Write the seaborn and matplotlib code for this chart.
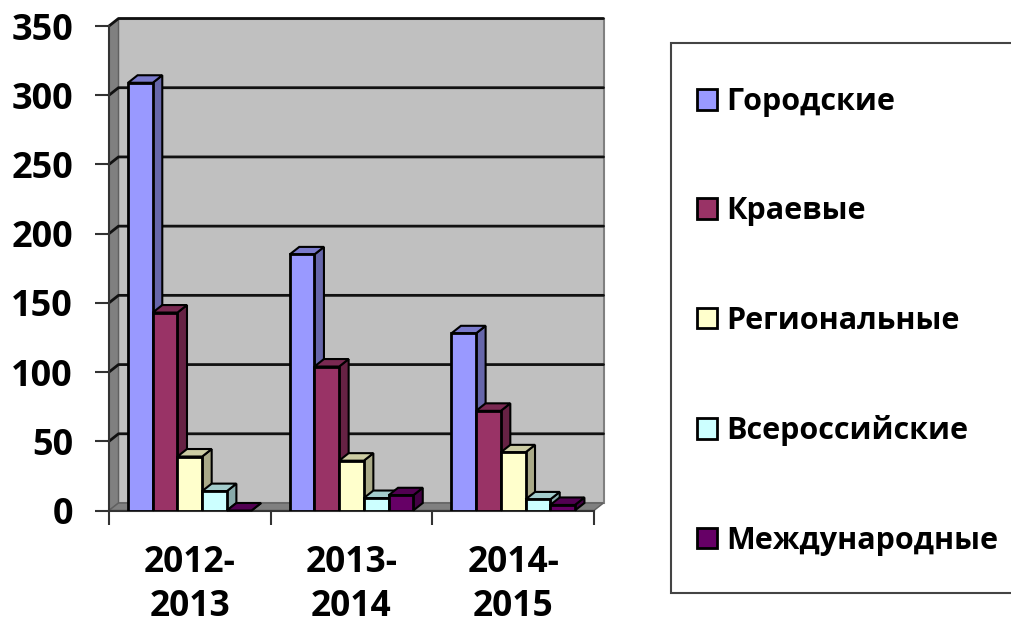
import pandas as pd
import numpy as np
import matplotlib
matplotlib.use("Agg")
import matplotlib.pyplot as plt
from matplotlib.colors import to_rgb
from matplotlib.patches import Polygon, Rectangle
import seaborn as sns

years=["2012-\n2013","2013-\n2014","2014-\n2015"]
gorodskie=[309,185,128]
kraevye=[143,104,72]
regionalnye=[39,36,42]
vserossiyskie=[14,9,8]
mezhdunarodnye=[0,11,4]
series_names=["Городские","Краевые","Региональные","Всероссийские","Международные"]
colors=["#9999ff","#993366","#ffffcc","#ccffff","#660066"]
y_ticks=[0,50,100,150,200,250,300,350]

W,H=1012,626

rows=[]
for name,vals in zip(series_names,[gorodskie,kraevye,regionalnye,vserossiyskie,mezhdunarodnye]):
    for yr,v in zip(years,vals):
        rows.append({"year":yr,"series":name,"value":v})
df=pd.DataFrame(rows)

sns.set_style("white")
plt.rcParams["font.family"]=["Open Sans","DejaVu Sans"]
plt.rcParams["font.weight"]="bold"

fig=plt.figure(figsize=(W/100,H/100),dpi=100)
ax=fig.add_axes([109/W,(H-510.5)/H,485/W,484.5/H])

sns.barplot(
    data=df,x="year",y="value",hue="series",
    palette=colors,saturation=1,width=0.764,gap=0,
    edgecolor="black",linewidth=2,ax=ax,zorder=3
)
ax.set_xlim(-0.5,2.5)
ax.set_ylim(0,350)
ax.set_xlabel("")
ax.set_ylabel("")

# seaborn also keeps empty legend rectangles in ax.patches, skip those
bars=sorted([b for b in ax.patches if b.get_width()>0],key=lambda b:b.get_x())

# depth of the fake 3d box, in data units
dx=9.5/(485/3)
dy=7.5/(484.5/350)
x0,x1=-0.5,2.5

ax.add_patch(Rectangle((x0+dx,dy),x1-x0,350,fc="#c0c0c0",ec="#808080",lw=1.5,clip_on=False,zorder=0))
ax.add_patch(Polygon([(x0,0),(x0+dx,dy),(x0+dx,350+dy),(x0,350)],fc="#808080",ec="#606060",lw=1,clip_on=False,zorder=0.5))
ax.add_patch(Polygon([(x0,0),(x0+dx,dy),(x1+dx,dy),(x1,0)],fc="#808080",ec="#606060",lw=1,clip_on=False,zorder=0.5))

for t in y_ticks[1:]:
    ax.plot([x0,x0+dx,x1+dx],[t,t+dy,t+dy],color="#111111",lw=2,clip_on=False,zorder=1)

# side and top faces for each bar
for i,b in enumerate(bars):
    bx,bw,bh=b.get_x(),b.get_width(),b.get_height()
    rgb=np.array(to_rgb(b.get_facecolor()[:3]))
    z=3+i*0.1
    b.set_zorder(z+0.05)
    ax.add_patch(Polygon([(bx+bw,0),(bx+bw+dx,dy),(bx+bw+dx,bh+dy),(bx+bw,bh)],
                         fc=rgb*0.667,ec="black",lw=1.5,clip_on=False,zorder=z))
    ax.add_patch(Polygon([(bx,bh),(bx+dx,bh+dy),(bx+bw+dx,bh+dy),(bx+bw,bh)],
                         fc=rgb*0.8,ec="black",lw=1.5,clip_on=False,zorder=z))

for s in ["top","right"]:
    ax.spines[s].set_visible(False)
for s in ["left","bottom"]:
    ax.spines[s].set_color("#333333")
    ax.spines[s].set_linewidth(1.5)
    ax.spines[s].set_zorder(2)

ax.set_yticks(y_ticks)
ax.tick_params(axis="y",length=10,width=1.5,color="#333333",labelsize=26,labelcolor="black",pad=16,left=True)
ax.set_xticks([0,1,2])
ax.set_xticks([-0.5,0.5,1.5,2.5],minor=True)
ax.set_xticklabels(years,linespacing=1.3)
ax.tick_params(axis="x",which="major",length=0,labelsize=25.5,labelcolor="black",pad=24.5)
ax.tick_params(axis="x",which="minor",length=10,width=1.5,color="#333333",bottom=True)

# legend box runs off the right edge of the picture
fig.add_artist(Rectangle((671/W,(H-593)/H),400/W,550/H,transform=fig.transFigure,fc="white",ec="#444444",lw=1.5,zorder=-1))
sns.move_legend(
    ax,"upper left",bbox_to_anchor=(697/W,(H-87)/H),bbox_transform=fig.transFigure,
    title=None,frameon=False,fontsize=22,labelcolor="black",borderpad=0,borderaxespad=0,
    handlelength=0.655,handleheight=0.655,handletextpad=0.3,labelspacing=2.6
)

fig.savefig("out.png",dpi=100,facecolor="white")
